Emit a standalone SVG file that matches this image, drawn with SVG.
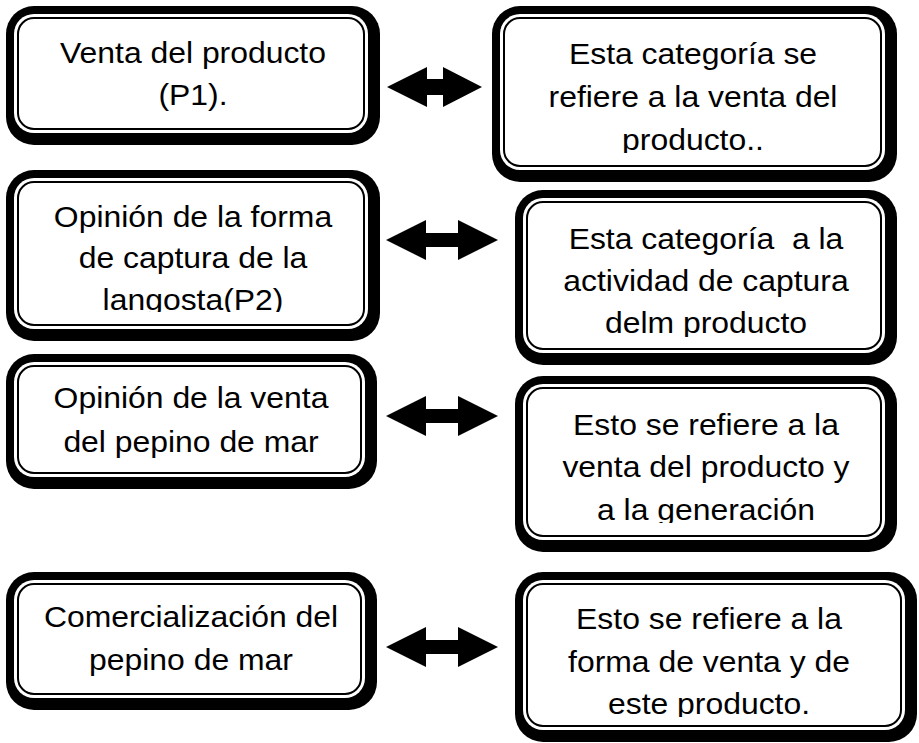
<svg xmlns="http://www.w3.org/2000/svg" width="919" height="743" viewBox="0 0 919 743">
<style>
.o{fill:#000}
.w{fill:#fff}
.i{fill:none;stroke:#000;stroke-width:2}
.t{font-family:"Liberation Sans",Arial,sans-serif;font-size:29px;fill:#000;text-anchor:middle;white-space:pre}
.ar{fill:#000}
</style>
<defs>
<clipPath id="c2"><rect x="492" y="6" width="405" height="147"/></clipPath>
<clipPath id="c3"><rect x="6" y="170" width="374" height="142"/></clipPath>
<clipPath id="c4"><rect x="515" y="190" width="382" height="147"/></clipPath>
<clipPath id="c6"><rect x="515" y="376" width="382" height="147"/></clipPath>
<clipPath id="c8"><rect x="515" y="572" width="402" height="145"/></clipPath>
</defs>
<rect width="919" height="743" fill="#fff"/>

<g id="n1">
<rect class="o" x="6" y="6" width="374" height="139" rx="28"/>
<rect class="w" x="14" y="14" width="354" height="119" rx="20"/>
<rect class="i" x="18" y="18" width="346" height="111" rx="16"/>
<g transform="translate(193 0) scale(1.1 1)"><text class="t"><tspan x="0" y="63">Venta del producto</tspan><tspan x="0" y="105">(P1).</tspan></text></g>
</g>

<g id="n2">
<rect class="o" x="492" y="6" width="405" height="176" rx="28"/>
<rect class="w" x="500" y="14" width="385" height="156" rx="20"/>
<rect class="i" x="504" y="18" width="377" height="148" rx="16"/>
<g clip-path="url(#c2)"><g transform="translate(693 0) scale(1.1 1)"><text class="t"><tspan x="0" y="64">Esta categoría se</tspan><tspan x="0" y="107">refiere a la venta del</tspan><tspan x="0" y="150">producto..</tspan></text></g></g>
</g>

<g id="n3">
<rect class="o" x="6" y="170" width="374" height="171" rx="28"/>
<rect class="w" x="14" y="178" width="354" height="151" rx="20"/>
<rect class="i" x="18" y="182" width="346" height="143" rx="16"/>
<g clip-path="url(#c3)"><g transform="translate(193 0) scale(1.1 1)"><text class="t"><tspan x="0" y="227">Opinión de la forma</tspan><tspan x="0" y="268">de captura de la</tspan><tspan x="0" y="310">langosta(P2)</tspan></text></g></g>
</g>

<g id="n4">
<rect class="o" x="515" y="190" width="382" height="175" rx="28"/>
<rect class="w" x="523" y="198" width="362" height="155" rx="20"/>
<rect class="i" x="527" y="202" width="354" height="147" rx="16"/>
<g clip-path="url(#c4)"><g transform="translate(706 0) scale(1.1 1)"><text class="t" xml:space="preserve"><tspan x="0" y="249">Esta categoría  a la</tspan><tspan x="0" y="291">actividad de captura</tspan><tspan x="0" y="333">delm producto</tspan></text></g></g>
</g>

<g id="n5">
<rect class="o" x="6" y="354" width="371" height="135" rx="28"/>
<rect class="w" x="14" y="362" width="351" height="115" rx="20"/>
<rect class="i" x="18" y="366" width="343" height="107" rx="16"/>
<g transform="translate(191 0) scale(1.1 1)"><text class="t"><tspan x="0" y="408">Opinión de la venta</tspan><tspan x="0" y="452">del pepino de mar</tspan></text></g>
</g>

<g id="n6">
<rect class="o" x="515" y="376" width="382" height="176" rx="28"/>
<rect class="w" x="523" y="384" width="362" height="156" rx="20"/>
<rect class="i" x="527" y="388" width="354" height="148" rx="16"/>
<g clip-path="url(#c6)"><g transform="translate(706 0) scale(1.1 1)"><text class="t"><tspan x="0" y="435">Esto se refiere a la</tspan><tspan x="0" y="477">venta del producto y</tspan><tspan x="0" y="520">a la generación</tspan></text></g></g>
</g>

<g id="n7">
<rect class="o" x="6" y="572" width="371" height="138" rx="28"/>
<rect class="w" x="14" y="580" width="351" height="118" rx="20"/>
<rect class="i" x="18" y="584" width="343" height="110" rx="16"/>
<g transform="translate(191 0) scale(1.1 1)"><text class="t"><tspan x="0" y="627">Comercialización del</tspan><tspan x="0" y="670">pepino de mar</tspan></text></g>
</g>

<g id="n8">
<rect class="o" x="515" y="572" width="402" height="170" rx="28"/>
<rect class="w" x="523" y="580" width="382" height="150" rx="20"/>
<rect class="i" x="527" y="584" width="374" height="142" rx="16"/>
<g clip-path="url(#c8)"><g transform="translate(709 0) scale(1.1 1)"><text class="t"><tspan x="0" y="629">Esto se refiere a la</tspan><tspan x="0" y="672">forma de venta y de</tspan><tspan x="0" y="714">este producto.</tspan></text></g></g>
</g>

<g id="connectors">
<polygon class="ar" points="387,87 427,67 427,79 443,79 443,67 482,87 443,107 443,95 427,95 427,107"/>
<polygon class="ar" points="386,240 426,220 426,233 458,233 458,220 498,240 458,260 458,247 426,247 426,260"/>
<polygon class="ar" points="386,416 426,396 426,409 458,409 458,396 498,416 458,436 458,423 426,423 426,436"/>
<polygon class="ar" points="386,647 426,627 426,640 458,640 458,627 498,647 458,667 458,654 426,654 426,667"/>
</g>
</svg>
